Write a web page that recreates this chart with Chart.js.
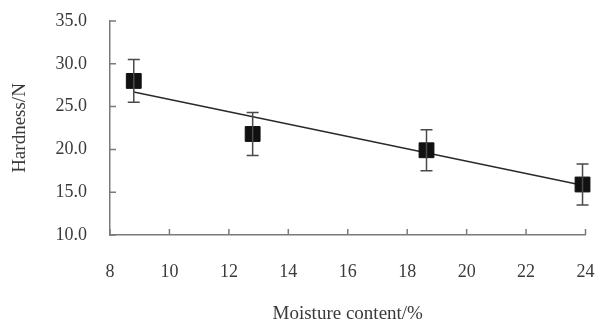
<!DOCTYPE html>
<html>
<head>
<meta charset="utf-8">
<script src="https://cdn.jsdelivr.net/npm/chart.js@4/dist/chart.umd.min.js"></script>
<style>
  html, body { margin: 0; padding: 0; background: #fff; }
  #wrap { width: 597px; height: 320px; position: relative; }
</style>
</head>
<body>
<div id="wrap"><canvas id="c"></canvas></div>
<script>
// Hardness measured at each moisture content, with standard deviation
const moisture = [8.8, 12.8, 18.65, 23.9];
const hardness = [28.0, 21.8, 19.9, 15.9];
const hardnessSd = [2.5, 2.5, 2.4, 2.4];

// Fitted trend line end points
const trendX = [8.8, 23.9];
const trendY = [26.7, 15.8];

const xTicks = [8, 10, 12, 14, 16, 18, 20, 22, 24];
const yTicks = [10, 15, 20, 25, 30, 35];

const axisColor = '#7a7a7a';
const textColor = '#3a3a3a';
const serif = 'Liberation Serif';

// Error bars drawn from the SD array through the chart scales
const errorBars = {
  id: 'errorBars',
  afterDatasetsDraw(chart) {
    const { ctx, scales: { x, y } } = chart;
    ctx.save();
    ctx.strokeStyle = '#4a4a4a';
    ctx.lineWidth = 1.5;
    const cap = 6;
    moisture.forEach((m, i) => {
      const px = x.getPixelForValue(m);
      const top = y.getPixelForValue(hardness[i] + hardnessSd[i]);
      const bot = y.getPixelForValue(hardness[i] - hardnessSd[i]);
      ctx.beginPath();
      ctx.moveTo(px, top); ctx.lineTo(px, bot);
      ctx.moveTo(px - cap, top); ctx.lineTo(px + cap, top);
      ctx.moveTo(px - cap, bot); ctx.lineTo(px + cap, bot);
      ctx.stroke();
    });
    ctx.restore();
  }
};

// Short tick marks pointing into the plot area
const innerTicks = {
  id: 'innerTicks',
  afterDraw(chart) {
    const { ctx, scales: { x, y } } = chart;
    const len = 6;
    ctx.save();
    ctx.strokeStyle = axisColor;
    ctx.lineWidth = 1.5;
    ctx.beginPath();
    xTicks.forEach(v => {
      const px = x.getPixelForValue(v);
      ctx.moveTo(px, y.bottom); ctx.lineTo(px, y.bottom - len);
    });
    yTicks.forEach(v => {
      const py = y.getPixelForValue(v);
      ctx.moveTo(x.left, py); ctx.lineTo(x.left + len, py);
    });
    ctx.stroke();
    ctx.restore();
  }
};

new Chart(document.getElementById('c'), {
  type: 'scatter',
  data: {
    datasets: [
      {
        label: 'Trend',
        data: trendX.map((v, i) => ({ x: v, y: trendY[i] })),
        showLine: true,
        borderColor: '#2a2a2a',
        borderWidth: 1.5,
        pointRadius: 0,
        clip: false,
        order: 2
      },
      {
        label: 'Hardness',
        data: moisture.map((v, i) => ({ x: v, y: hardness[i] })),
        pointStyle: 'rect',
        pointRadius: 10.5,
        backgroundColor: '#111',
        borderColor: '#111',
        borderWidth: 1,
        clip: false,
        order: 1
      }
    ]
  },
  options: {
    responsive: true,
    maintainAspectRatio: false,
    animation: false,
    layout: { padding: { top: 21, right: 9, bottom: 0, left: 0 } },
    plugins: { legend: { display: false }, tooltip: { enabled: false } },
    scales: {
      x: {
        type: 'linear',
        min: 8, max: 24,
        afterBuildTicks(scale) { scale.ticks = xTicks.map(v => ({ value: v })); },
        afterFit(scale) {
          scale.height = 85;
          scale.paddingLeft = 0;
          scale.paddingRight = 0;
        },
        grid: { drawOnChartArea: false, drawTicks: false },
        border: { display: true, color: axisColor, width: 1.5 },
        ticks: {
          padding: 26,
          maxRotation: 0,
          color: textColor,
          font: { family: serif, size: 18 },
          callback: v => String(v)
        },
        title: {
          display: true,
          text: 'Moisture content/%',
          color: textColor,
          font: { family: serif, size: 19 },
          padding: { top: 0, bottom: -5 }
        }
      },
      y: {
        type: 'linear',
        min: 10, max: 35,
        afterBuildTicks(scale) { scale.ticks = yTicks.map(v => ({ value: v })); },
        afterFit(scale) {
          scale.width = 110;
          scale.paddingTop = 0;
          scale.paddingBottom = 0;
        },
        grid: { drawOnChartArea: false, drawTicks: false },
        border: { display: true, color: axisColor, width: 1.5 },
        ticks: {
          padding: 23,
          color: textColor,
          font: { family: serif, size: 18 },
          callback: v => Number(v).toFixed(1)
        },
        title: {
          display: true,
          text: 'Hardness/N',
          color: textColor,
          font: { family: serif, size: 19 },
          padding: { top: 9, bottom: 0 }
        }
      }
    }
  },
  plugins: [errorBars, innerTicks]
});
</script>
</body>
</html>
